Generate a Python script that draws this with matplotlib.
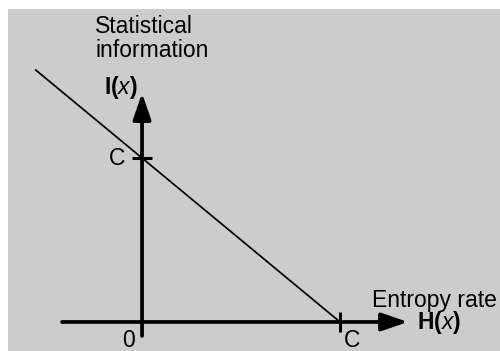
import numpy as np
import matplotlib.pyplot as plt

plt.rcParams['font.family'] = ['Liberation Sans', 'DejaVu Sans']
plt.rcParams['mathtext.fontset'] = 'custom'
plt.rcParams['mathtext.rm'] = 'Liberation Sans'
plt.rcParams['mathtext.bf'] = 'Liberation Sans:bold'
plt.rcParams['mathtext.it'] = 'Liberation Sans:italic'

BG = '#cccccc'

# capacity C = 1 in both axes; the line is I(x) = C - H(x)
C = 1.0
line_h = np.array([-0.54, C])
line_i = C - line_h

# axis extents (data units)
h_axis = (-0.404, 1.343)
i_axis = (-0.085, 1.396)
tick_half = (0.05, 0.06)


def main():
    fig = plt.figure(figsize=(5.0, 3.51), dpi=100)
    ax = fig.add_axes([8 / 500, 0, 492 / 500, 342 / 351])
    ax.set_facecolor(BG)
    ax.set_xlim(-0.677, 1.808)
    ax.set_ylim(-0.177, 1.909)
    for s in ax.spines.values():
        s.set_visible(False)
    ax.set_xticks([])
    ax.set_yticks([])

    # diagonal
    ax.plot(line_h, line_i, color='black', lw=1.25, solid_capstyle='butt')

    # axes with arrows
    arrow = dict(arrowstyle='-|>,head_length=1.6,head_width=0.55', lw=2.7,
                 color='black', mutation_scale=10, shrinkA=0, shrinkB=0)
    ax.annotate('', xy=(h_axis[1], 0), xytext=(h_axis[0], 0), arrowprops=arrow)
    ax.annotate('', xy=(0, i_axis[1]), xytext=(0, i_axis[0]), arrowprops=arrow)

    # C ticks
    ax.plot([-tick_half[0], tick_half[0]], [C, C], color='black', lw=2.2,
            solid_capstyle='butt')
    ax.plot([C, C], [-tick_half[1], tick_half[1]], color='black', lw=2.2,
            solid_capstyle='butt')

    fs = 16.5
    ax.text(-0.237, 1.875, 'Statistical\ninformation', fontsize=fs, ha='left',
            va='top', linespacing=1.08)
    ax.text(-0.02, 1.43, r'$\mathbf{I(}\mathit{x}\mathbf{)}$', fontsize=fs,
            ha='right', va='center')
    ax.text(-0.086, C, 'C', fontsize=fs, ha='right', va='center')
    ax.text(-0.07, -0.11, '0', fontsize=fs, ha='center', va='center')
    ax.text(1.06, -0.11, 'C', fontsize=fs, ha='center', va='center')
    ax.text(1.162, 0.134, 'Entropy rate', fontsize=fs, ha='left', va='center')
    ax.text(1.389, -0.006, r'$\mathbf{H(}\mathit{x}\mathbf{)}$', fontsize=fs,
            ha='left', va='center')

    fig.savefig('out.png', dpi=100, facecolor='white')


if __name__ == '__main__':
    main()
